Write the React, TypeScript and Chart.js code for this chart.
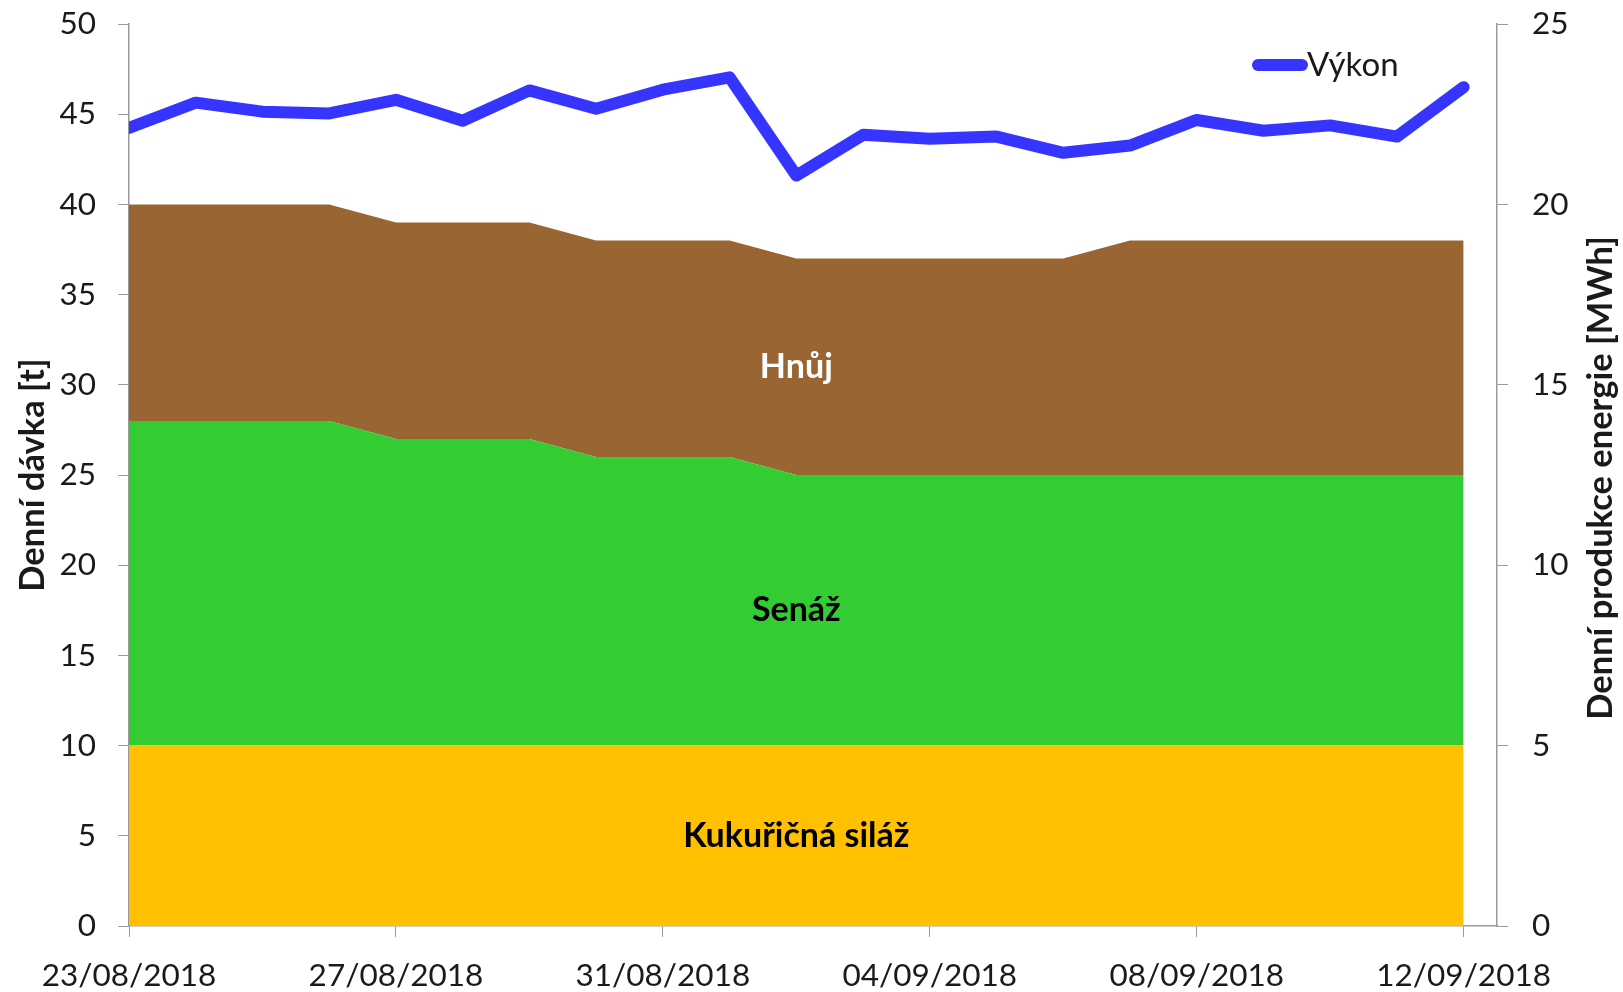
import React, { useEffect, useRef } from 'react';
import { Chart, registerables } from 'chart.js';

Chart.register(...registerables);

const dates = [
  '23/08/2018', '24/08/2018', '25/08/2018', '26/08/2018', '27/08/2018', '28/08/2018', '29/08/2018',
  '30/08/2018', '31/08/2018', '01/09/2018', '02/09/2018', '03/09/2018', '04/09/2018', '05/09/2018',
  '06/09/2018', '07/09/2018', '08/09/2018', '09/09/2018', '10/09/2018', '11/09/2018', '12/09/2018',
];
const kukuricnaSilaz = [10, 10, 10, 10, 10, 10, 10, 10, 10, 10, 10, 10, 10, 10, 10, 10, 10, 10, 10, 10, 10];
const senaz = [18, 18, 18, 18, 17, 17, 17, 16, 16, 16, 15, 15, 15, 15, 15, 15, 15, 15, 15, 15, 15];
const hnuj = [12, 12, 12, 12, 12, 12, 12, 12, 12, 12, 12, 12, 12, 12, 12, 13, 13, 13, 13, 13, 13];
const vykon = [
  22.12, 22.82, 22.57, 22.52, 22.9, 22.32, 23.16, 22.65, 23.18, 23.52, 20.8,
  21.93, 21.82, 21.88, 21.43, 21.63, 22.34, 22.04, 22.19, 21.88, 23.25,
];
const xTickIndices = [0, 4, 8, 12, 16, 20];
const labelIndex = 10;

const FONT = 'Lato, "Open Sans", sans-serif';
const TEXT = '#1a1a1a';
const AXIS = '#9a9a9a';
const BLUE = '#3535ff';
const TICK_SIZE = 31.5;
const TITLE_SIZE = 34.5;

const areaLabels = {
  id: 'areaLabels',
  afterDatasetsDraw(chart: any) {
    const { ctx, scales } = chart;
    const x = scales.x.getPixelForValue(labelIndex);
    const k = kukuricnaSilaz[labelIndex];
    const s = senaz[labelIndex];
    const h = hnuj[labelIndex];
    const items = [
      { text: 'Kukuřičná siláž', v: k / 2, color: '#000' },
      { text: 'Senáž', v: k + s / 2, color: '#000' },
      { text: 'Hnůj', v: k + s + h / 2, color: '#fff' },
    ];
    ctx.save();
    ctx.font = `bold 34px ${FONT}`;
    ctx.textAlign = 'center';
    ctx.textBaseline = 'middle';
    for (const it of items) {
      ctx.fillStyle = it.color;
      ctx.fillText(it.text, x, scales.y.getPixelForValue(it.v));
    }
    ctx.restore();
  },
};

const rightTitle = {
  id: 'rightTitle',
  afterDraw(chart: any) {
    const { ctx, chartArea } = chart;
    ctx.save();
    ctx.translate(1601, (chartArea.top + chartArea.bottom) / 2 + 3);
    ctx.rotate(-Math.PI / 2);
    ctx.fillStyle = TEXT;
    ctx.font = `bold ${TITLE_SIZE}px ${FONT}`;
    ctx.textAlign = 'center';
    ctx.textBaseline = 'middle';
    ctx.fillText('Denní produkce energie [MWh]', 0, 0);
    ctx.restore();
  },
};

const customLegend = {
  id: 'customLegend',
  afterDraw(chart: any) {
    const { ctx } = chart;
    const y = 65;
    ctx.save();
    ctx.strokeStyle = BLUE;
    ctx.lineWidth = 12;
    ctx.lineCap = 'round';
    ctx.beginPath();
    ctx.moveTo(1258, y);
    ctx.lineTo(1302, y);
    ctx.stroke();
    ctx.fillStyle = TEXT;
    ctx.font = `33px ${FONT}`;
    ctx.textAlign = 'left';
    ctx.textBaseline = 'middle';
    ctx.fillText('Výkon', 1307, y);
    ctx.restore();
  },
};

const noPad = (scale: any) => {
  scale.paddingTop = 0;
  scale.paddingBottom = 0;
};

export default function App() {
  const ref = useRef<HTMLCanvasElement | null>(null);

  useEffect(() => {
    document.body.style.margin = '0';
    const canvas = ref.current;
    if (!canvas) return;
    const pts = (arr: number[]) => arr.map((v, i) => ({ x: i, y: v }));
    const chart = new Chart(canvas, {
      type: 'line',
      data: {
        datasets: [
          {
            label: 'Výkon',
            data: pts(vykon),
            yAxisID: 'y1',
            borderColor: BLUE,
            borderWidth: 12,
            borderJoinStyle: 'round',
            borderCapStyle: 'round',
            pointRadius: 0,
            tension: 0,
            fill: false,
            order: 0,
          },
          {
            label: 'Kukuřičná siláž',
            data: pts(kukuricnaSilaz),
            yAxisID: 'y',
            borderWidth: 0,
            borderColor: 'rgba(0,0,0,0)',
            backgroundColor: '#ffc000',
            pointRadius: 0,
            tension: 0,
            fill: 'origin',
            order: 1,
          },
          {
            label: 'Senáž',
            data: pts(senaz),
            yAxisID: 'y',
            borderWidth: 0,
            borderColor: 'rgba(0,0,0,0)',
            backgroundColor: '#33cc33',
            pointRadius: 0,
            tension: 0,
            fill: '-1',
            order: 1,
          },
          {
            label: 'Hnůj',
            data: pts(hnuj),
            yAxisID: 'y',
            borderWidth: 0,
            borderColor: 'rgba(0,0,0,0)',
            backgroundColor: '#996633',
            pointRadius: 0,
            tension: 0,
            fill: '-1',
            order: 1,
          },
        ],
      },
      options: {
        animation: false,
        responsive: false,
        devicePixelRatio: 1,
        layout: { padding: { top: 24, left: 0, right: 0, bottom: 0 } },
        plugins: {
          legend: { display: false },
          tooltip: { enabled: false },
        },
        scales: {
          x: {
            type: 'linear',
            min: 0,
            max: 20.5,
            afterBuildTicks: (scale: any) => {
              scale.ticks = xTickIndices.map((v) => ({ value: v }));
            },
            afterFit: (scale: any) => {
              scale.height = 66;
              scale.paddingLeft = 0;
              scale.paddingRight = 0;
            },
            ticks: {
              callback: (v: any) => dates[Number(v)] ?? '',
              font: { family: FONT, size: TICK_SIZE },
              color: TEXT,
              padding: 20,
              maxRotation: 0,
              autoSkip: false,
            },
            grid: { display: true, drawOnChartArea: false, drawTicks: true, tickLength: 11, color: AXIS },
            border: { display: true, color: AXIS, width: 1.5 },
          },
          y: {
            type: 'linear',
            position: 'left',
            stacked: true,
            min: 0,
            max: 50,
            afterFit: (scale: any) => {
              scale.width = 129;
              noPad(scale);
            },
            ticks: {
              stepSize: 5,
              font: { family: FONT, size: TICK_SIZE },
              color: TEXT,
              padding: 22,
            },
            grid: { display: true, drawOnChartArea: false, drawTicks: true, tickLength: 11, color: AXIS },
            border: { display: true, color: AXIS, width: 1.5 },
            title: {
              display: true,
              text: 'Denní dávka [t]',
              font: { family: FONT, size: TITLE_SIZE, weight: 'bold' },
              color: TEXT,
              padding: { top: 12, bottom: 0 },
            },
          },
          y1: {
            type: 'linear',
            position: 'right',
            min: 0,
            max: 25,
            afterFit: (scale: any) => {
              scale.width = 126;
              noPad(scale);
            },
            ticks: {
              stepSize: 5,
              font: { family: FONT, size: TICK_SIZE },
              color: TEXT,
              padding: 24,
            },
            grid: { display: true, drawOnChartArea: false, drawTicks: true, tickLength: 11, color: AXIS },
            border: { display: true, color: AXIS, width: 1.5 },
          },
        },
      } as any,
      plugins: [areaLabels, rightTitle, customLegend],
    });
    return () => chart.destroy();
  }, []);

  return (
    <div style={{ position: 'fixed', left: 0, top: 0, width: 1623, height: 992, background: '#fff' }}>
      <canvas ref={ref} width={1623} height={992} style={{ display: 'block', width: 1623, height: 992 }} />
    </div>
  );
}
